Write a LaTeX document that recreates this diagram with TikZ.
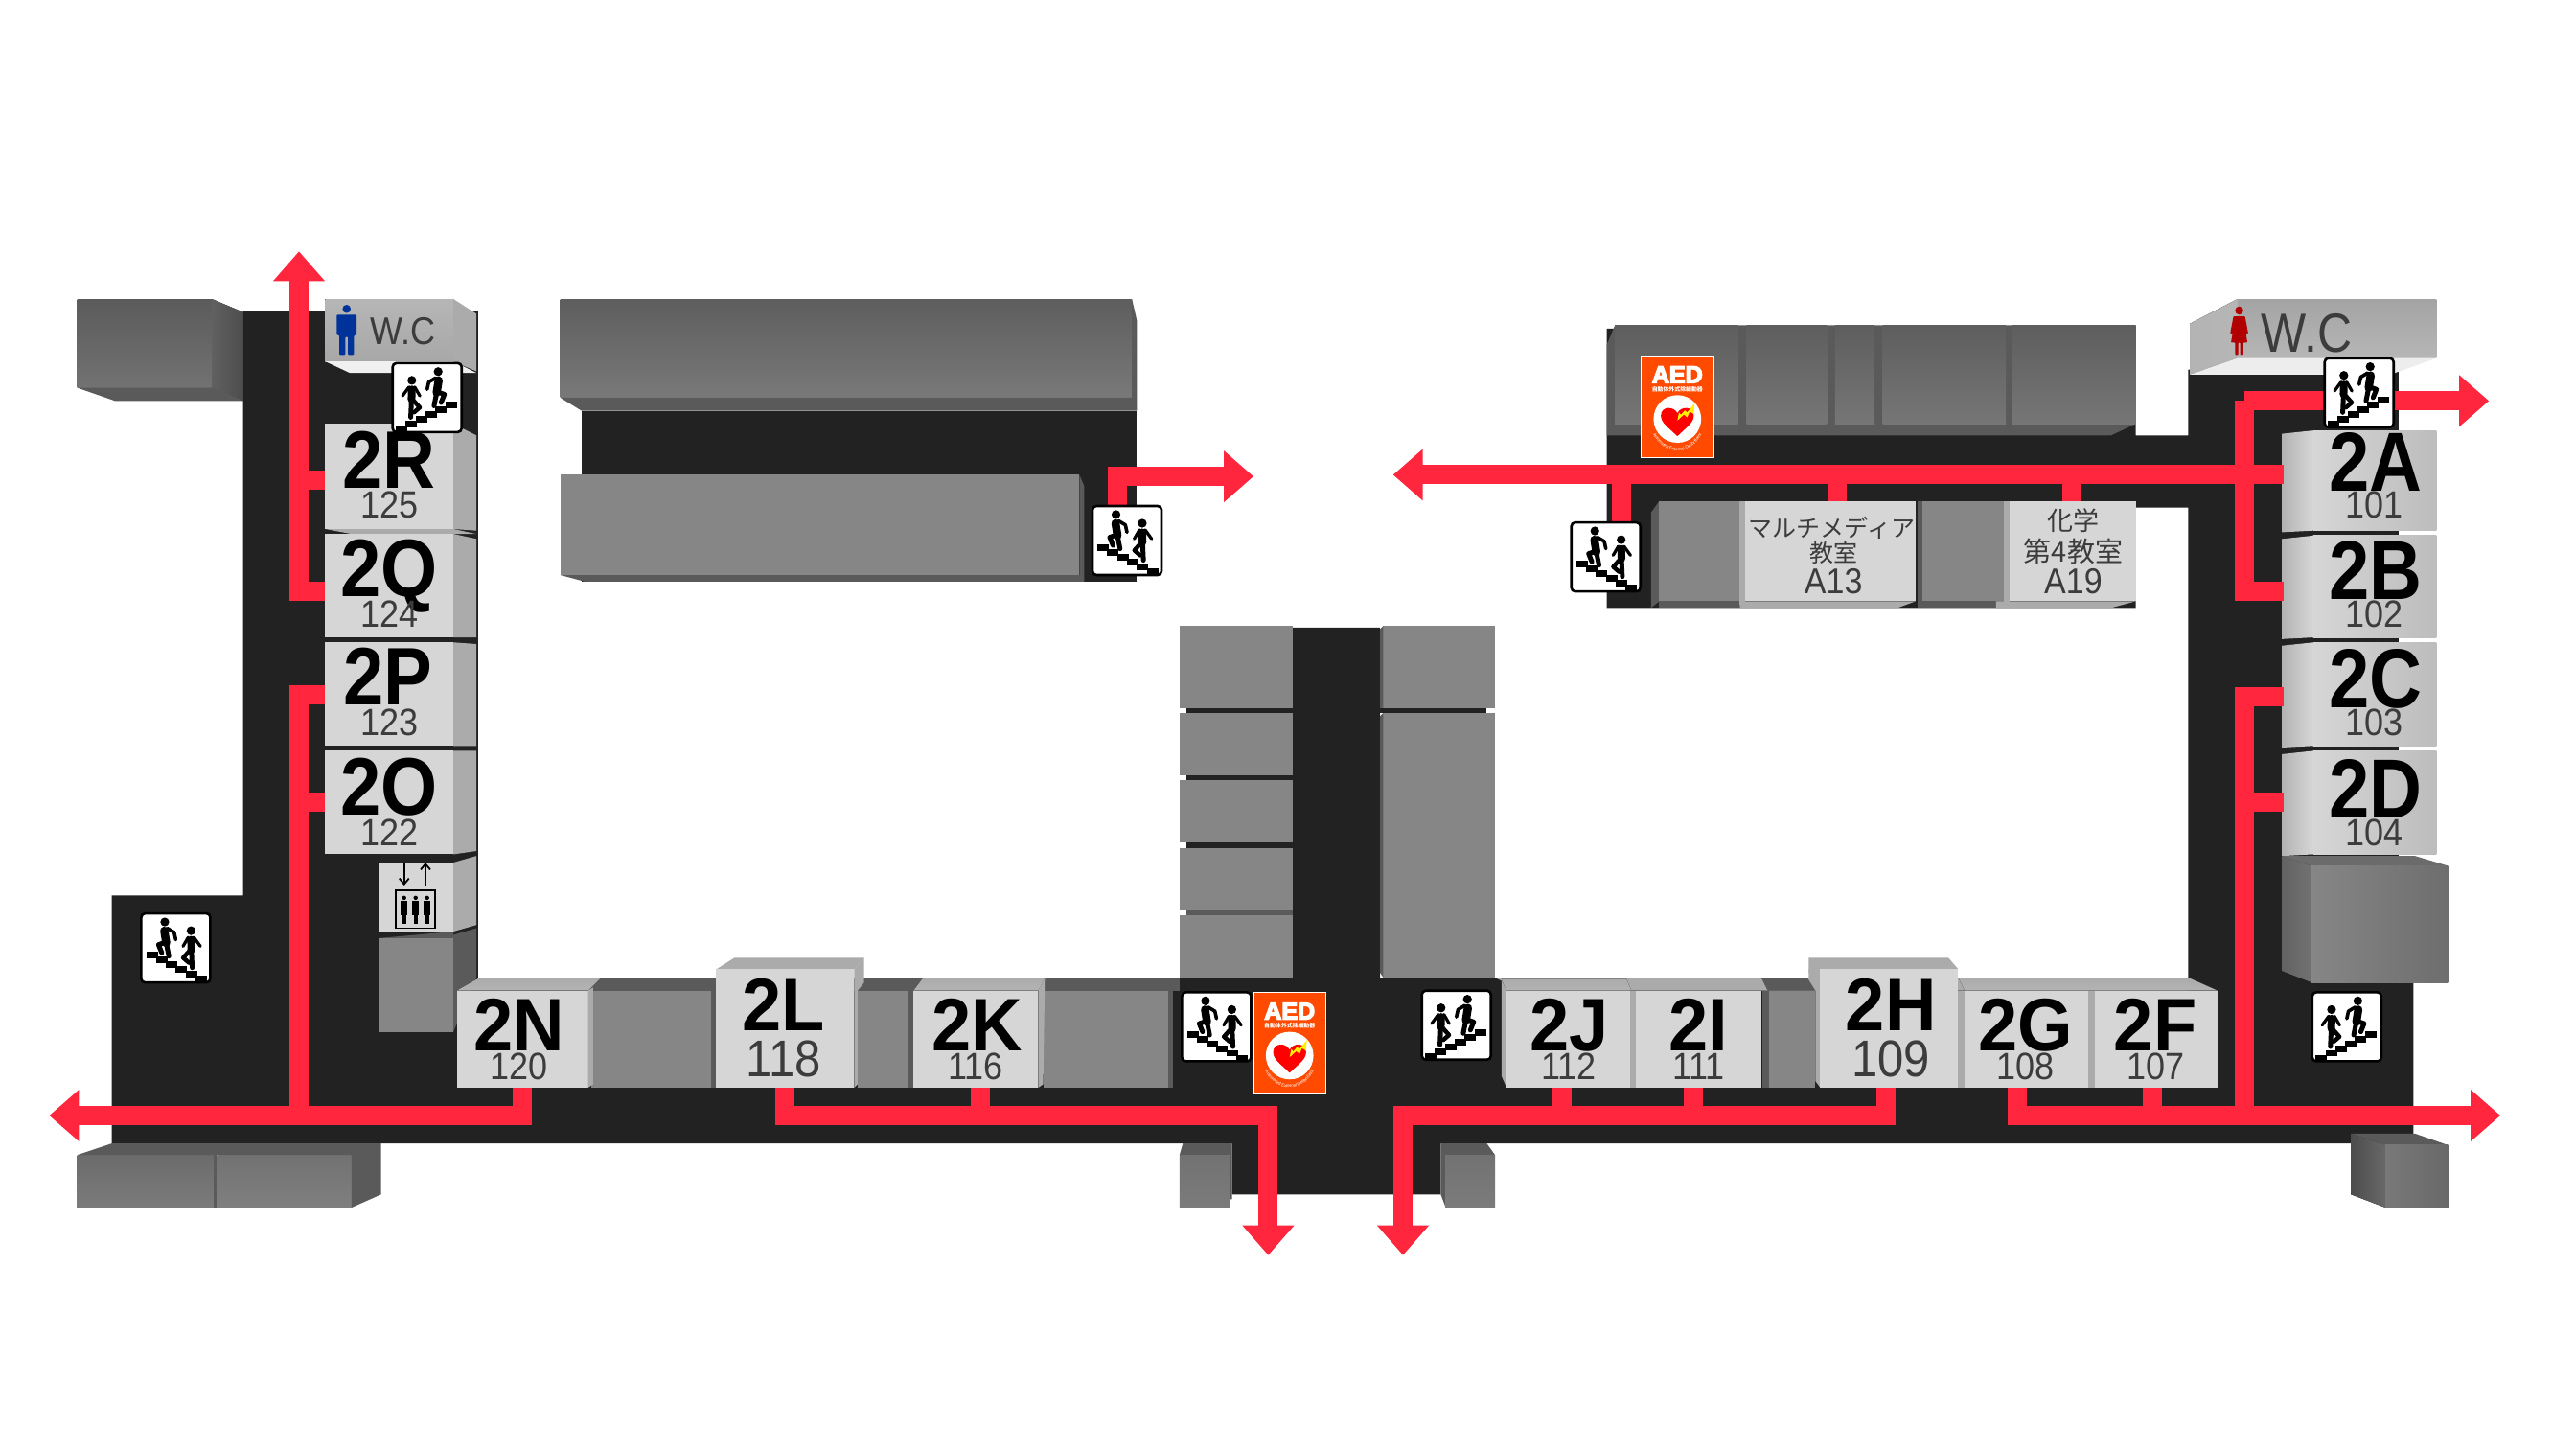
\documentclass[tikz,border=0pt]{standalone}
\usepackage{fontspec}
\usepackage{graphicx}
\setmainfont{Liberation Sans}
\newfontfamily\jpfont{Noto Sans CJK JP}
\usetikzlibrary{arrows.meta,decorations.text}
\definecolor{floorc}{HTML}{222222}
\definecolor{routec}{HTML}{FF263D}
\definecolor{frontlight}{HTML}{D6D6D6}
\definecolor{sidelight}{HTML}{ABABAB}
\definecolor{frontgray}{HTML}{868686}
\definecolor{sidegray}{HTML}{5A5A5A}
\definecolor{wcgray}{HTML}{B6B6B6}
\definecolor{numc}{HTML}{3C3C3C}
\definecolor{aedc}{HTML}{FF4A00}
\tikzset{
 floorfill/.style={fill=floorc},
 lightface/.style={fill=frontlight},
 lightside/.style={fill=sidelight},
 grayface/.style={fill=frontgray},
 grayside/.style={fill=sidegray},
 route/.style={draw=routec,line width=20pt,miter limit=10},
 routearrow/.style={route,-{Triangle[width=52pt,length=31pt]}},
 lab/.style={anchor=base,inner sep=0pt,outer sep=0pt},
 numlab/.style={lab,text=numc},
 iconperson/.style={draw=black,line cap=round,line join=round},
}
\newcommand{\tallness}{1.12}
% #1 name #2 x #3 baseline #4 size #5 text
\newcommand{\letterlab}[5]{\node[lab] (#1) at (#2,#3) {\scalebox{1}[\tallness]{\fontsize{#4}{#4}\selectfont\bfseries #5}};}
\newcommand{\numberlab}[5]{\node[numlab] (#1) at (#2,#3) {\scalebox{1}[1.1]{\fontsize{#4}{#4}\selectfont #5}};}
% lit room with side to the right (left wing): y1 y2 rise-top rise-bottom
\newcommand{\leftroom}[4]{%
 \fill[lightface] (198,#1) rectangle (276,#2);
 \fill[lightside] (276,#1) -- (290,#1+#3) -- (290,#2+#4) -- (276,#2) -- cycle;
}
% lit room with side to the left (right wing)
\newcommand{\rightroom}[2]{%
 \fill[left color=sidelight!90!white,right color=frontlight] (1389,#1+2) -- (1408,#1) -- (1408,#2) -- (1389,#2+1) -- cycle;
 \fill[left color=frontlight,right color=frontlight!88!black] (1408,#1) rectangle (1483,#2);
}
% stair sign: cx cy mirror
\newcommand{\stairsign}[3]{%
 \begin{scope}[shift={(#1,#2)}]
 \fill[white,draw=black,line width=2.6pt,rounded corners=4pt] (-21,-21) rectangle (21,21);
 \begin{scope}[xscale=#3]
 \foreach \i in {0,...,5} {\fill[black] ({-18+6*\i},{2.5+2.9*\i}) rectangle ++(7,4);}
 \fill[black] (-6.7,-15.8) circle (2.7);
 \draw[iconperson,line width=8.5pt] (-7,-10.5) -- (-5.8,-3);
 \draw[iconperson,line width=5pt] (-5.8,-3) -- (-4.2,5);
 \draw[iconperson,line width=5pt] (-6,-3.5) -- (-10.5,-2) -- (-8.5,3);
 \draw[iconperson,line width=3.6pt] (-5.2,-12) -- (-1,-9.5) -- (0,-5);
 \fill[black] (9.3,-10.5) circle (2.7);
 \draw[iconperson,line width=8pt] (9.3,-5) -- (9.5,1);
 \draw[iconperson,line width=5pt] (9.5,1) -- (10,12);
 \draw[iconperson,line width=4.5pt] (9,1) -- (4.5,6) -- (8,9);
 \draw[iconperson,line width=3.2pt] (7.6,-6.5) -- (4.4,-1);
 \draw[iconperson,line width=3.2pt] (11,-6.5) -- (15,-1);
 \end{scope}
 \end{scope}
}
% AED sign: name cx cy
\newcommand{\aedsign}[3]{%
 \begin{scope}[shift={(#2,#3)}]
 \fill[aedc,draw=white,line width=0.8pt] (-22,-31) rectangle (22,31);
 \node[lab] (#1a) at (0,-14.5) {\fontsize{25}{25}\selectfont\bfseries\special{pdf:code 2 Tr 1.4 w 0 0 0 RG}\textcolor{white}{AED}\special{pdf:code 0 Tr}};
 \node[lab,text=white] (#1b) at (0,-9.3) {\fontsize{5.9}{6}\selectfont\jpfont\bfseries 自動体外式除細動器};
 \fill[white] (0,7.5) circle (14.5);
 \fill[red] (0,18) .. controls (-5,13) and (-10,10) .. (-10,5.5) .. controls (-10,-0.5) and (-2,-0.5) .. (0,4) .. controls (2,-0.5) and (10,-0.5) .. (10,5.5) .. controls (10,10) and (5,13) .. (0,18) -- cycle;
 \fill[yellow] (10.5,-2) -- (10,4.5) -- (7.5,3) -- (6,6.5) -- (4,4.8) -- (0,8.5) -- (1,3.5) -- (2.2,5) -- (4.5,2.3) -- (6,3.5) -- cycle;
 \path[decorate,decoration={text along path,text align=center,text={|\color{white}\fontsize{4.6}{5}\selectfont|Automated External Defibrillator}}] (-17,12) .. controls (-10,32) and (10,32) .. (17,12);
 \end{scope}
}
\begin{document}
\begin{tikzpicture}[x=1.71429pt,y=-1.71429pt]
\useasboundingbox (0,0) rectangle (1568,882);
\fill[white] (0,0) rectangle (1568,882);

%% floor
\fill[floorfill] (68,545) -- (148,545) -- (148,189) -- (291,189) -- (291,595) -- (787,595) -- (787,382) -- (840,382) -- (840,595) -- (1332,595) -- (1332,309) -- (1300,309) -- (1300,370) -- (978,370) -- (978,200) -- (1300,200) -- (1300,265) -- (1332,265) -- (1332,225) -- (1460,225) -- (1460,598) -- (1469,598) -- (1469,696) -- (877,696) -- (877,727) -- (750,727) -- (750,696) -- (68,696) -- cycle;
\fill[floorfill] (354,250) rectangle (692,354);

%% upper-left blocks
\shade[top color=frontgray!70!black,bottom color=frontgray!90!black] (341,182) -- (689,182) -- (689,242) -- (341,242) -- cycle;
\fill[grayside] (689,182) -- (692,195) -- (692,250) -- (354,250) -- (341,242) -- (689,242) -- cycle;
\fill[grayface] (341,289) rectangle (657,350);
\fill[grayside] (657,289) -- (660,296) -- (660,354) -- (356,354) -- (341,350) -- (657,350) -- cycle;

%% far-left top block
\shade[top color=frontgray!68!black,bottom color=frontgray!85!black] (47,182) rectangle (129,236);
\fill[left color=frontgray!72!black,right color=sidegray!85!black] (129,182) -- (148,190) -- (148,244) -- (129,236) -- cycle;
\fill[sidegray] (47,236) -- (70,244) -- (148,244) -- (129,236) -- cycle;

%% left wing rooms
\fill[top color=wcgray,bottom color=wcgray!92!black] (198,182) rectangle (276,220);
\fill[lightside] (276,182) -- (290,191) -- (290,226) -- (276,220) -- cycle;
\fill[gray!12] (198,220) -- (213,227) -- (290,227) -- (276,220) -- cycle;
\leftroom{258}{322}{7}{1}
\fill[sidelight] (198,322) -- (214,325) -- (290,325) -- (276,322) -- cycle;
\leftroom{325}{388}{3}{0}
\leftroom{391}{454}{1}{0}
\leftroom{457}{520}{0}{-2}
\fill[grayside] (276,569) -- (290,565) -- (290,595) -- (276,628) -- cycle;
\fill[grayface] (231,571) -- (276,571) -- (276,628) -- (231,628) -- cycle;
\fill[sidegray] (231,571) -- (276,567) -- (276,571) -- cycle;
\fill[lightface] (231,525) rectangle (276,567);
\fill[lightside] (276,525) -- (290,521) -- (290,563) -- (276,567) -- cycle;

%% elevator pictogram
\draw[black,line width=1.8pt,-{Straight Barb[length=6pt,width=10pt]}] (246,525) -- (246,539);
\draw[black,line width=1.8pt,{Straight Barb[length=6pt,width=10pt]}-] (259,525) -- (259,539);
\draw[black,line width=1.8pt] (241,542) rectangle (265,565);
\foreach \px in {246,253,260} {
 \fill[black] (\px,546.5) circle (1.3);
 \fill[black] (\px-2,548.5) rectangle (\px+2,557);
 \fill[black] (\px-1.1,557) rectangle (\px+1.1,562.5);
}

%% male pictogram
\fill[blue!50!black!80!cyan] (211,188) circle (2.5);
\fill[blue!50!black!80!cyan,rounded corners=1pt] (205,191.5) -- (217,191.5) -- (217,204) -- (215.5,204) -- (215.5,216) -- (211.8,216) -- (211.8,205) -- (210.2,205) -- (210.2,216) -- (206.5,216) -- (206.5,204) -- (205,204) -- cycle;

%% bottom row, left
\fill[sidegray] (358,595) rectangle (718,603);
\fill[top color=sidelight,bottom color=sidelight!90!white] (278,603) -- (292,595) -- (366,595) -- (358,603) -- cycle;
\fill[lightface] (278,603) rectangle (358,662);
\fill[grayface] (360,603) rectangle (433,662);
\fill[sidelight] (358,603) -- (361,601) -- (361,660) -- (358,662) -- cycle;
\fill[sidegray] (433,603) rectangle (436,662);
\fill[sidelight] (436,590) -- (447,583) -- (526,583) -- (520,590) -- cycle;
\fill[sidelight] (520,590) -- (526,583) -- (526,598) -- (522,603) -- (522,660) -- (520,662) -- cycle;
\fill[lightface] (436,590) rectangle (520,662);
\fill[grayface] (522,603) rectangle (553,662);
\fill[sidegray] (553,603) rectangle (556,662);
\fill[top color=sidelight,bottom color=sidelight!90!white] (556,603) -- (562,595) -- (636,595) -- (632,603) -- cycle;
\fill[lightface] (556,603) rectangle (632,662);
\fill[grayface] (635,603) rectangle (711,662);
\fill[sidelight] (632,603) -- (636,595) -- (635,660) -- (632,662) -- cycle;
\fill[sidegray] (711,603) rectangle (714,662);

%% centre stacks
\fill[grayface] (718,381) rectangle (787,431);
\fill[grayface] (718,434) rectangle (787,472);
\fill[grayface] (718,475) rectangle (787,513);
\fill[grayface] (718,516) rectangle (787,554);
\fill[grayface] (718,557) rectangle (787,595);
\fill[floorc] (722,431) rectangle (787,434);
\fill[floorc] (722,472) rectangle (787,475);
\fill[floorc] (722,513) rectangle (787,516);
\fill[sidegray] (722,554) rectangle (787,557);
\fill[grayface] (842,381) rectangle (910,431);
\fill[grayface] (842,434) rectangle (910,595);
\fill[sidegray] (840,383) -- (842,381) -- (842,431) -- (840,431) -- cycle;
\fill[sidegray] (840,436) -- (842,434) -- (842,595) -- (840,592) -- cycle;
\fill[floorc] (840,431) rectangle (905,434);

%% bottom row, right
\fill[sidelight] (914,597) -- (910,595) -- (1332,595) -- (1332,603) -- (917,603) -- cycle;
\fill[sidegray] (1072,595) -- (1100,595) -- (1105,603) -- (1076,603) -- cycle;
\fill[top color=sidelight,bottom color=sidelight!90!white] (914,596) -- (990,596) -- (993,603) -- (917,603) -- cycle;
\fill[sidelight] (914,597) -- (917,603) -- (917,662) -- (914,655) -- cycle;
\fill[lightface] (917,603) rectangle (992,662);
\fill[sidelight] (992,603) rectangle (996,662);
\fill[lightface] (996,603) rectangle (1072,662);
\fill[sidegray] (1073,603) rectangle (1077,662);
\fill[grayface] (1077,603) rectangle (1105,662);
\fill[sidelight] (1101,590) -- (1108,597) -- (1108,662) -- (1105,658) -- (1105,600) -- (1101,595) -- cycle;
\fill[sidelight] (1101,583) -- (1186,583) -- (1192,590) -- (1108,590) -- (1108,597) -- (1101,592) -- cycle;
\fill[lightface] (1108,590) rectangle (1192,662);
\fill[sidelight] (1192,603) rectangle (1196,662);
\fill[lightface] (1196,603) rectangle (1271,662);
\fill[sidelight] (1271,603) rectangle (1275,662);
\fill[lightface] (1275,603) rectangle (1350,662);
\fill[top color=sidelight,bottom color=sidelight!90!white] (1192,595) -- (1332,595) -- (1350,603) -- (1196,603) -- cycle;

%% top-right block row
\fill[sidegray] (978,210) -- (983,198) -- (1300,198) -- (1300,258) -- (1285,265) -- (978,265) -- cycle;
\foreach \xa/\xb in {983/1058,1063/1112,1117/1141,1146/1221,1225/1300} {
 \shade[top color=frontgray!70!black,bottom color=frontgray!88!black] (\xa,198) rectangle (\xb,258);
}

%% lower block row
\fill[sidegray] (1005,312) -- (1010,305) -- (1010,366) -- (1005,370) -- cycle;
\fill[grayface] (1010,305) rectangle (1059,366);
\fill[sidegray] (1010,366) rectangle (1059,370);
\fill[sidelight] (1059,305) rectangle (1062,368);
\fill[lightface] (1062,305) rectangle (1166,366);
\fill[sidelight] (1059,366) -- (1166,366) -- (1155,370) -- (1059,370) -- cycle;
\fill[sidegray] (1167,305) rectangle (1170,370);
\fill[grayface] (1170,305) rectangle (1220,366);
\fill[sidegray] (1170,366) rectangle (1220,370);
\fill[sidelight] (1220,305) rectangle (1223,368);
\fill[lightface] (1223,305) rectangle (1300,366);
\fill[sidelight] (1215,366) -- (1300,366) -- (1285,370) -- (1215,370) -- cycle;

%% right wing rooms
\fill[left color=sidelight!90!white,right color=wcgray] (1333,197) -- (1362,182) -- (1362,218) -- (1333,228) -- cycle;
\fill[top color=wcgray!90!black,bottom color=wcgray] (1362,182) rectangle (1483,218);
\fill[gray!14] (1333,228) -- (1362,218) -- (1483,218) -- (1455,228) -- cycle;
\rightroom{262}{323}
\rightroom{326}{388}
\rightroom{391}{454}
\rightroom{457}{520}
\fill[left color=sidegray!95!white,right color=frontgray!85!black] (1389,521) -- (1407,527) -- (1407,598) -- (1389,591) -- cycle;
\fill[sidegray!90!white] (1389,521) -- (1470,521) -- (1490,527) -- (1407,527) -- cycle;
\fill[left color=frontgray,right color=frontgray!82!black] (1407,527) rectangle (1490,598);

%% female pictogram
\fill[red!70!black] (1363,189) circle (2.5);
\fill[red!70!black,rounded corners=.8pt] (1359.5,192.5) -- (1366.5,192.5) -- (1368.5,203) -- (1367,203) -- (1366.2,198) -- (1368,208.5) -- (1365.5,208.5) -- (1365.5,216) -- (1363.6,216) -- (1363.6,208.5) -- (1362.4,208.5) -- (1362.4,216) -- (1360.5,216) -- (1360.5,208.5) -- (1358,208.5) -- (1359.8,198) -- (1359,203) -- (1357.5,203) -- cycle;

%% small blocks along the bottom
\shade[top color=frontgray!80!black,bottom color=frontgray!92!black] (47,703) rectangle (130,735);
\shade[top color=frontgray!85!black,bottom color=frontgray!95!black] (132,703) rectangle (214,735);
\fill[sidegray] (47,703) -- (68,696) -- (232,696) -- (232,727) -- (214,735) -- (214,703) -- cycle;
\fill[sidegray] (130,703) rectangle (132,735);
\fill[sidegray] (720,696) -- (750,696) -- (750,730) -- (748,730) -- (748,703) -- (718,703) -- cycle;
\shade[top color=frontgray!85!black,bottom color=frontgray!92!black] (718,703) rectangle (748,735);
\fill[sidegray] (877,696) -- (905,696) -- (910,703) -- (880,703) -- (880,735) -- (877,727) -- cycle;
\shade[top color=frontgray!85!black,bottom color=frontgray!92!black] (880,703) rectangle (910,735);
\fill[left color=sidegray!85!black,right color=frontgray!78!black] (1431,690) -- (1452,697) -- (1452,735) -- (1431,727) -- cycle;
\fill[sidegray] (1431,690) -- (1470,690) -- (1490,697) -- (1452,697) -- cycle;
\shade[left color=frontgray!90!black,right color=frontgray!78!black] (1452,697) rectangle (1490,735);

%% evacuation routes
\coordinate (leftup) at (182,153);
\coordinate (leftout) at (30,679);
\coordinate (downl) at (772,764);
\coordinate (downr) at (854,764);
\coordinate (rightout) at (1522,679);
\coordinate (westout) at (848,289);
\coordinate (eastout) at (1515,244);
\coordinate (northout) at (763,290);
\draw[routearrow] (198,360) -| (leftup);
\draw[route] (182,292) -- (198,292);
\draw[routearrow] (318,662) |- (leftout);
\draw[route] (198,423) -| (182,679);
\draw[route] (182,488) -- (198,488);
\draw[routearrow] (478,662) |- (772,679) -- (downl);
\draw[route] (597,662) -- (597,679);
\draw[routearrow] (1148,662) |- (854,679) -- (downr);
\draw[route] (951,662) -- (951,679);
\draw[route] (1031,662) -- (1031,679);
\draw[routearrow] (1228,662) |- (rightout);
\draw[route] (1310,662) -- (1310,679);
\draw[route] (1390,424) -| (1366,679);
\draw[route] (1366,488) -- (1390,488);
\draw[routearrow] (1390,289) -- (westout);
\draw[route] (987,289) -- (987,320);
\draw[route] (1118,289) -- (1118,305);
\draw[route] (1261,289) -- (1261,305);
\draw[route] (1390,360) -| (1366,244);
\draw[routearrow] (1366,244) -- (eastout);
\draw[routearrow] (680,310) |- (northout);

%% signs
\stairsign{260}{242}{-1}
\stairsign{686}{329}{1}
\stairsign{107}{577}{1}
\stairsign{740.5}{625}{1}
\stairsign{886.5}{624}{-1}
\stairsign{977.5}{339}{1}
\stairsign{1436}{239}{-1}
\stairsign{1428.5}{625}{-1}
\aedsign{aedA}{785}{635}
\aedsign{aedB}{1021}{247.5}

%% room labels
\node[numlab] (wcl) at (245,209.5) {\scalebox{1}[1.12]{\fontsize{36}{36}\selectfont W.C}};
\node[numlab] (wcr) at (1404,214.5) {\scalebox{1}[1.15]{\fontsize{50}{50}\selectfont W.C}};
\letterlab{r}{237}{297}{76}{2R} \numberlab{rn}{237}{315.5}{36}{125}
\letterlab{q}{237}{363}{76}{2Q} \numberlab{qn}{237}{381.5}{36}{124}
\letterlab{p}{236}{429}{76}{2P} \numberlab{pn}{237}{447.5}{36}{123}
\letterlab{o}{237}{496}{76}{2O} \numberlab{on}{237}{514.5}{36}{122}
\renewcommand{\tallness}{1.05}
\letterlab{n}{316}{639.5}{74}{2N} \numberlab{nn}{316}{657}{36}{120}
\letterlab{l}{477}{627.5}{74}{2L} \numberlab{ln}{477}{655.5}{49}{118}
\letterlab{k}{595}{639.5}{74}{2K} \numberlab{kn}{594}{657}{36}{116}
\letterlab{j}{955}{639.5}{74}{2J} \numberlab{jn}{955}{657}{36}{112}
\letterlab{i}{1034}{639.5}{74}{2I} \numberlab{in}{1034}{657}{36}{111}
\letterlab{h}{1151}{627.5}{74}{2H} \numberlab{hn}{1151}{655.5}{49}{109}
\letterlab{g}{1233}{639.5}{74}{2G} \numberlab{gn}{1233}{657}{36}{108}
\letterlab{f}{1312}{639.5}{74}{2F} \numberlab{fn}{1312}{657}{36}{107}
\renewcommand{\tallness}{1.15}
\letterlab{a}{1446}{299}{76}{2A} \numberlab{an}{1445}{315.5}{36}{101}
\letterlab{b}{1446}{365}{76}{2B} \numberlab{bn}{1445}{381.5}{36}{102}
\letterlab{c}{1446}{431}{76}{2C} \numberlab{cn}{1445}{447.5}{36}{103}
\letterlab{d}{1446}{498}{76}{2D} \numberlab{dn}{1445}{514.5}{36}{104}
\node[numlab] (m1) at (1115,327) {\fontsize{25}{25}\selectfont\jpfont マルチメディア};
\node[numlab] (m2) at (1116,342) {\fontsize{25}{25}\selectfont\jpfont 教室};
\numberlab{m3}{1116}{361.5}{34}{A13}
\node[numlab] (c1) at (1262,323) {\fontsize{27}{27}\selectfont\jpfont 化学};
\node[numlab] (c2) at (1262,342) {\fontsize{29}{29}\selectfont\jpfont 第4教室};
\numberlab{c3}{1262}{361.5}{34}{A19}
\end{tikzpicture}
\end{document}
